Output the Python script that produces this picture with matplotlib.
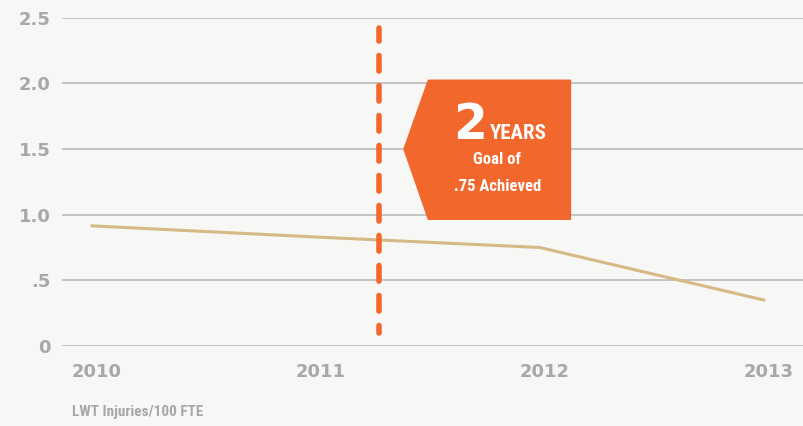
from matplotlib import pyplot as plt
from matplotlib import font_manager
from matplotlib import transforms
from matplotlib.patches import Polygon

years = [2010, 2011, 2012, 2013]
rates = [0.915, 0.83, 0.75, 0.35]
ytick_vals = [0, 0.5, 1.0, 1.5, 2.0, 2.5]
ytick_labels = ["0", ".5", "1.0", "1.5", "2.0", "2.5"]
goal_year = 2011.28

bg = "#f7f7f5"
grey = "#a8a8a8"
orange = "#f2672c"

# look for a condensed face, otherwise use Roboto a bit smaller
names = set(f.name for f in font_manager.fontManager.ttflist)
narrow = None
for cand in ["Roboto Condensed", "Open Sans Condensed", "Liberation Sans Narrow",
             "DejaVu Sans Condensed", "Noto Sans Condensed"]:
    if cand in names:
        narrow = cand
        break
if narrow:
    fs_years, fs_goal, fs_note = 15, 12, 11
else:
    narrow = "Roboto"
    fs_years, fs_goal, fs_note = 12, 10.5, 10

fig = plt.figure(figsize=(8.04, 4.26), dpi=100, facecolor=bg)
ax = fig.add_axes([0.0771, 0.188, 0.9229, 0.770])
ax.set_facecolor(bg)

ax.plot(years, rates, color="#d6b985", lw=2.2, zorder=3)

# dashed goal line (drawn bottom to top)
ax.plot([goal_year, goal_year], [0.099, 2.424], color=orange, lw=4,
        linestyle=(1.45, (2.8, 2.6)), dash_capstyle="round", zorder=4)

# callout box
pts = [(2011.39, 1.5), (2011.5, 2.03), (2012.14, 2.03), (2012.14, 0.96), (2011.5, 0.96)]
ax.add_patch(Polygon(pts, closed=True, color=orange, zorder=5, lw=0))
ax.text(2011.69, 1.578, "2", color="white", fontsize=35, fontweight="bold",
        family="DejaVu Sans", ha="center", va="baseline", zorder=6)
ax.text(2011.775, 1.578, "YEARS", color="white", fontsize=fs_years, fontweight="bold",
        family=narrow, ha="left", va="baseline", zorder=6)
ax.text(2011.81, 1.418, "Goal of", color="white", fontsize=fs_goal, fontweight="bold",
        family=narrow, ha="center", va="center", zorder=6)
ax.text(2011.81, 1.212, ".75 Achieved", color="white", fontsize=fs_goal, fontweight="bold",
        family=narrow, ha="center", va="center", zorder=6)

ax.set_xlim(2009.866, 2013.18)
ax.set_ylim(0, 2.5)
ax.set_yticks(ytick_vals, ytick_labels)
ax.set_xticks(years, [str(y) for y in years])
ax.grid(axis="y", color="#c4c4c4", lw=1.4)
ax.set_axisbelow(True)
for s in ax.spines.values():
    s.set_visible(False)
ax.tick_params(axis="both", length=0, colors=grey, labelsize=13)
ax.tick_params(axis="y", pad=8)
ax.tick_params(axis="x", pad=12)
for lab in ax.get_xticklabels() + ax.get_yticklabels():
    lab.set_fontweight("bold")
    lab.set_family("DejaVu Sans")

# year labels sit a little right of the data points
shift = transforms.ScaledTranslation(5 / 100, 0, fig.dpi_scale_trans)
for lab in ax.get_xticklabels():
    lab.set_transform(lab.get_transform() + shift)

fig.text(72 / 804, 1 - 412 / 426, "LWT Injuries/100 FTE", color=grey, fontsize=fs_note,
         fontweight="bold", family=narrow, va="center")

plt.savefig("out.png", dpi=100, facecolor=bg)
